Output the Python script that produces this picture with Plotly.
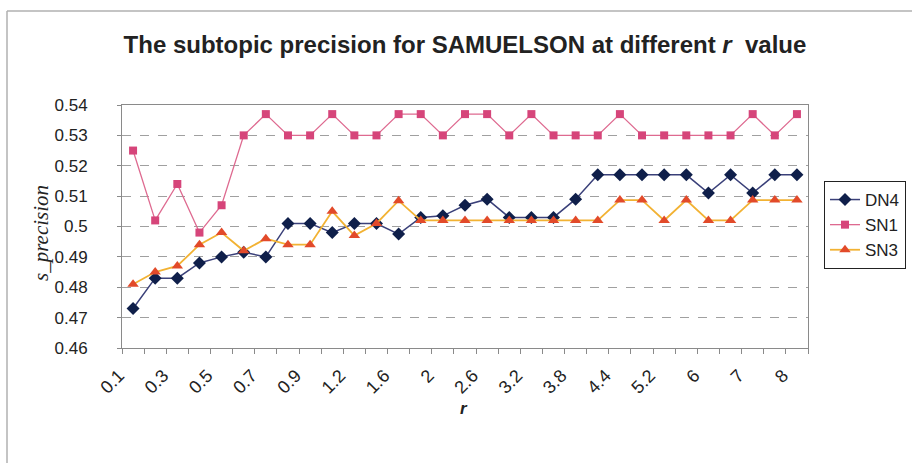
import plotly.graph_objects as go

# r values on the x axis (category order as in the chart)
r_labels = ["0.1", "0.2", "0.3", "0.4", "0.5", "0.6", "0.7", "0.8", "0.9", "1",
            "1.2", "1.4", "1.6", "1.8", "2", "2.3", "2.6", "2.9", "3.2", "3.5",
            "3.8", "4.1", "4.4", "4.8", "5.2", "5.6", "6", "6.5", "7", "7.5", "8"]

# subtopic precision for each series
dn4 = [0.473, 0.483, 0.483, 0.488, 0.490, 0.4915, 0.490, 0.501, 0.501, 0.498,
       0.501, 0.501, 0.4975, 0.503, 0.5035, 0.507, 0.509, 0.503, 0.503, 0.503,
       0.509, 0.517, 0.517, 0.517, 0.517, 0.517, 0.511, 0.517, 0.511, 0.517, 0.517]
sn1 = [0.525, 0.502, 0.514, 0.498, 0.507, 0.530, 0.537, 0.530, 0.530, 0.537,
       0.530, 0.530, 0.537, 0.537, 0.530, 0.537, 0.537, 0.530, 0.537, 0.530,
       0.530, 0.530, 0.537, 0.530, 0.530, 0.530, 0.530, 0.530, 0.537, 0.530, 0.537]
sn3 = [0.481, 0.485, 0.487, 0.494, 0.498, 0.492, 0.496, 0.494, 0.494, 0.505,
       0.497, 0.501, 0.5085, 0.502, 0.502, 0.502, 0.502, 0.502, 0.502, 0.502,
       0.502, 0.502, 0.5087, 0.5087, 0.502, 0.5087, 0.502, 0.502, 0.5087, 0.5087, 0.5087]

y_ticks = [0.46, 0.47, 0.48, 0.49, 0.50, 0.51, 0.52, 0.53, 0.54]
y_labels = ["0.46", "0.47", "0.48", "0.49", "0.5", "0.51", "0.52", "0.53", "0.54"]

x_pos = list(range(len(r_labels)))
FONT = "Arial, Liberation Sans, sans-serif"

fig = go.Figure()
fig.add_trace(go.Scatter(
    x=x_pos, y=dn4, name="DN4", mode="lines+markers",
    line=dict(color="#3a4079", width=1.5),
    marker=dict(symbol="diamond", size=10, color="#0f1f4a"),
))
fig.add_trace(go.Scatter(
    x=x_pos, y=sn1, name="SN1", mode="lines+markers",
    line=dict(color="#de6a90", width=1.3),
    marker=dict(symbol="square", size=8, color="#d6457a"),
))
fig.add_trace(go.Scatter(
    x=x_pos, y=sn3, name="SN3", mode="lines+markers",
    line=dict(color="#f2b233", width=1.8),
    marker=dict(symbol="triangle-up", size=10, color="#e24a2a"),
))

fig.update_layout(
    width=912, height=463,
    margin=dict(l=122, r=104, t=105, b=115, autoexpand=False),
    paper_bgcolor="white", plot_bgcolor="white",
    font=dict(family=FONT, size=17, color="#222"),
    title=dict(
        text="<b>The subtopic precision for SAMUELSON at different <i>r</i>  value</b>",
        x=0.5, xref="paper", xanchor="center",
        y=1 - 45 / 463, yanchor="middle",
        font=dict(family=FONT, size=24, color="#222"),
    ),
    legend=dict(
        x=1.0233, y=(348 - 181) / 243, xanchor="left", yanchor="top",
        bgcolor="white", bordercolor="#222", borderwidth=1,
        font=dict(family=FONT, size=17, color="#222"),
        itemwidth=30, tracegroupgap=0,
    ),
    showlegend=True,
)

fig.update_xaxes(
    range=[-0.5, len(r_labels) - 0.5],
    tickmode="array", tickvals=x_pos[::2],
    ticktext=[t + "\u00a0\u00a0" for t in r_labels[::2]],
    tickangle=-45, ticks="", ticklabelstandoff=2, ticklabelshift=-7,
    tickfont=dict(family=FONT, size=18, color="#222"),
    showgrid=False, zeroline=False,
    showline=True, linecolor="#8a8a8a", linewidth=1, mirror=True,
    minor=dict(ticks="outside", ticklen=5, tickcolor="#8a8a8a", tick0=-0.5, dtick=1, showgrid=False),
)
fig.update_yaxes(
    range=[0.46, 0.54],
    tickmode="array", tickvals=y_ticks, ticktext=y_labels,
    ticks="outside", ticklen=4, tickcolor="#8a8a8a", ticklabelstandoff=26,
    tickfont=dict(family=FONT, size=17, color="#222"),
    showgrid=True, gridcolor="#a0a0a0", griddash="dash", gridwidth=1,
    zeroline=False,
    showline=True, linecolor="#8a8a8a", linewidth=1, mirror=True,
)

# axis titles
fig.add_annotation(
    text="<i>s_precision</i>", xref="paper", yref="paper",
    x=(41 - 122) / 686, y=(348 - 233) / 243, textangle=-90, showarrow=False,
    xanchor="center", yanchor="middle",
    font=dict(family="Times New Roman, Liberation Serif, serif", size=21, color="#222"),
)
fig.add_annotation(
    text="<b><i>r</i></b>", xref="paper", yref="paper",
    x=(464 - 122) / 686, y=(348 - 408) / 243, showarrow=False,
    xanchor="center", yanchor="middle",
    font=dict(family=FONT, size=17, color="#222"),
)

# outer chart-area border (top and left edges visible)
fig.add_shape(type="line", xref="paper", yref="paper",
              x0=(7 - 122) / 686, x1=(914 - 122) / 686, y0=(348 - 11) / 243, y1=(348 - 11) / 243,
              line=dict(color="#b0b0b0", width=1.5))
fig.add_shape(type="line", xref="paper", yref="paper",
              x0=(7 - 122) / 686, x1=(7 - 122) / 686, y0=(348 - 11) / 243, y1=(348 - 465) / 243,
              line=dict(color="#b0b0b0", width=1.5))

# page body has a default 8px margin; drop it so the figure sits at the window origin
fig.write_html("out.html", config={"displayModeBar": False},
               post_script="document.body.style.margin='0';")
